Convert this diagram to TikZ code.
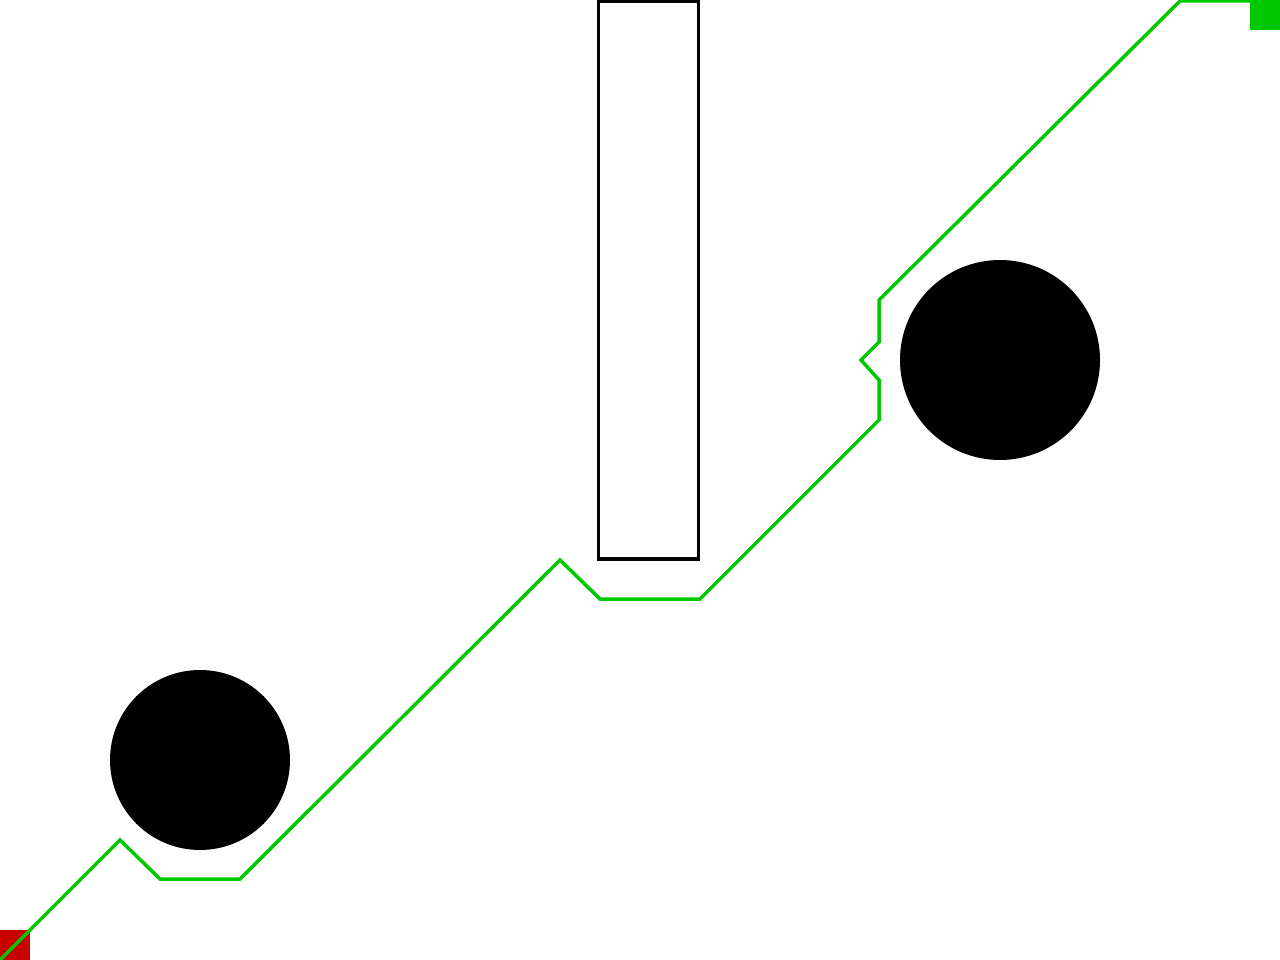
\documentclass[tikz,border=0pt]{standalone}
\definecolor{pathgreen}{RGB}{0,200,0}
\definecolor{startred}{RGB}{200,0,0}
\tikzset{
  obst/.style={fill=black,draw=none,circle,inner sep=0pt},
  wall/.style={draw=black,line width=3.5pt,rectangle,inner sep=0pt},
  route/.style={draw=pathgreen,line width=3.5pt,line join=miter},
}
\begin{document}
\begin{tikzpicture}[x=1pt,y=-1pt]
\useasboundingbox (0,0) rectangle (1280,960);
\fill[white] (0,0) rectangle (1280,960);
% obstacles
\node[obst,minimum size=180pt] (c1) at (200,760) {};
\node[obst,minimum size=200pt] (c2) at (1000,360) {};
\node[wall,minimum width=100pt,minimum height=558pt] (r1) at (648.5,280) {};
% path
\coordinate (s) at (0,960);
\coordinate (g) at (1250,1);
\draw[route] (s) -- (120,840) -- (160,879) -- (240,879) -- (560,560) -- (600,599) -- (700,599) -- (879,420) -- (879,380) -- (861,360) -- (879,342) -- (879,300) -- (1180,1) -- (g);
% start and goal
\node[fill=startred,minimum size=30pt,inner sep=0pt,anchor=south west] (start) at (0,960) {};
\node[fill=pathgreen,minimum size=30pt,inner sep=0pt,anchor=north east] (goal) at (1280,0) {};
\draw[route] (s) -- (start.north east);
\end{tikzpicture}
\end{document}
